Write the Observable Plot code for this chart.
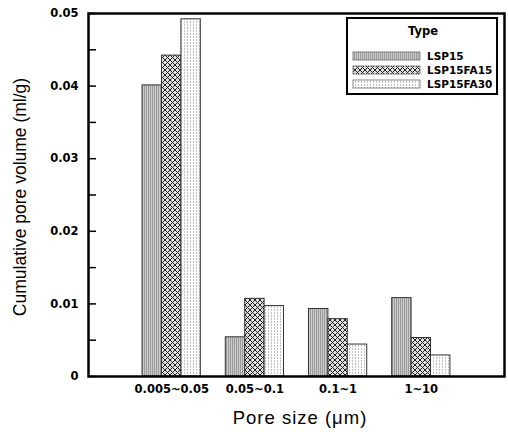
<!DOCTYPE html>
<html><head><meta charset="utf-8">
<script src="https://cdn.jsdelivr.net/npm/d3@7"></script>
<script src="https://cdn.jsdelivr.net/npm/@observablehq/plot@0.6"></script>
<style>body{margin:0;background:#fff} #chart{width:508px;height:432px}</style>
</head><body><div id="chart"></div>
<script>
const categories = ["0.005~0.05", "0.05~0.1", "0.1~1", "1~10"];
const types = ["LSP15", "LSP15FA15", "LSP15FA30"];
const lsp15 = [0.0401, 0.0054, 0.0093, 0.0108];
const lsp15fa15 = [0.0442, 0.0107, 0.0079, 0.0053];
const lsp15fa30 = [0.0492, 0.0097, 0.0044, 0.0029];
const yMajor = [0, 0.01, 0.02, 0.03, 0.04, 0.05];
const yMinor = [0.005, 0.015, 0.025, 0.035, 0.045];
const fills = ["url(#pLSP15)", "url(#pFA15)", "url(#pFA30)"];
const series = [lsp15, lsp15fa15, lsp15fa30];

const W = 508, H = 432, ML = 88, MR = 4, MT = 13, MB = 56;
const TICKFONT = "'DejaVu Sans', Verdana, sans-serif";
const TITLEFONT = "'Liberation Sans', Arial, sans-serif";

const xOpts = {type: "band", domain: categories, range: [ML, W - MR], paddingInner: 0.3, paddingOuter: 0.65, round: false};
const bw = Plot.scale({x: xOpts}).bandwidth;

const barMarks = types.map((t, j) => Plot.barY(
  categories.map((c, i) => ({cat: c, type: t, value: series[j][i]})),
  {x: "cat", y: "value", fill: fills[j], stroke: "#333", strokeWidth: 1,
   insetLeft: j * bw / 3, insetRight: (2 - j) * bw / 3}
));

const plot = Plot.plot({
  width: W, height: H,
  marginLeft: ML, marginRight: MR, marginTop: MT, marginBottom: MB,
  style: {fontFamily: TICKFONT, fontSize: "11.5px", fontWeight: "bold", color: "#000", background: "#fff"},
  x: {...xOpts, axis: null},
  y: {domain: [0, 0.05], axis: null},
  marks: [
    ...barMarks,
    Plot.axisX({anchor: "bottom", tickSize: 0, tickPadding: 8, label: null}),
    Plot.axisY(yMajor, {anchor: "left", tickSize: 0, tickPadding: 10, tickFormat: d => d === 0 ? "0" : d.toFixed(2), label: null}),
    Plot.axisY(yMajor.concat(yMinor), {anchor: "left", tickSize: -8, text: null, label: null, strokeWidth: 1.5}),
    Plot.frame({stroke: "#000", strokeWidth: 2.5})
  ]
});
document.getElementById("chart").appendChild(plot);

const svg = d3.select(plot);
const defs = svg.insert("defs", ":first-child");
// LSP15: gray vertical stripes
const p1 = defs.append("pattern").attr("id", "pLSP15").attr("patternUnits", "userSpaceOnUse").attr("width", 2).attr("height", 2);
p1.append("rect").attr("width", 2).attr("height", 2).attr("fill", "#cdcdcd");
p1.append("rect").attr("width", 1).attr("height", 2).attr("fill", "#999999");
// LSP15FA15: crosshatch
const p2 = defs.append("pattern").attr("id", "pFA15").attr("patternUnits", "userSpaceOnUse").attr("width", 5).attr("height", 5);
p2.append("rect").attr("width", 5).attr("height", 5).attr("fill", "#e0e0e0");
p2.append("path").attr("d", "M0,0L5,5M5,0L0,5M-1,4L1,6M4,-1L6,1M4,6L6,4M-1,1L1,-1").attr("stroke", "#222").attr("stroke-width", 1);
// LSP15FA30: light dots
const p3 = defs.append("pattern").attr("id", "pFA30").attr("patternUnits", "userSpaceOnUse").attr("width", 3).attr("height", 3);
p3.append("rect").attr("width", 3).attr("height", 3).attr("fill", "#ffffff");
p3.append("rect").attr("x", 1).attr("width", 1).attr("height", 2).attr("fill", "#c0c0c0");

// Axis titles
svg.append("text").attr("x", 300).attr("y", 419).attr("text-anchor", "middle").attr("dominant-baseline", "middle")
  .attr("font-family", TITLEFONT).attr("font-size", 18.5).attr("letter-spacing", 1).attr("font-weight", "normal").attr("fill", "#000").text("Pore size (μm)");
svg.append("text").attr("transform", `translate(21,197) rotate(-90)`).attr("text-anchor", "middle").attr("dominant-baseline", "middle")
  .attr("font-family", TITLEFONT).attr("font-size", 17.5).attr("font-weight", "normal").attr("fill", "#000").text("Cumulative pore volume (ml/g)");

// Legend
const lg = svg.append("g").attr("font-family", TICKFONT).attr("font-weight", "bold").attr("font-size", 10.5).attr("text-anchor", "start").attr("fill", "#000");
lg.append("rect").attr("x", 347).attr("y", 18).attr("width", 150).attr("height", 76).attr("fill", "#fff").attr("stroke", "#000").attr("stroke-width", 2);
lg.append("text").attr("x", 423).attr("y", 31).attr("text-anchor", "middle").attr("font-size", 11.5).attr("dominant-baseline", "middle").text("Type");
types.forEach((t, i) => {
  const y = 52 + i * 14;
  lg.append("rect").attr("x", 353).attr("y", y).attr("width", 67).attr("height", 8).attr("fill", fills[i]).attr("stroke", "#666").attr("stroke-width", 0.8);
  lg.append("text").attr("x", 427).attr("y", y + 4.5).attr("text-anchor", "start").attr("dominant-baseline", "middle").text(t);
});
</script>
</body></html>
